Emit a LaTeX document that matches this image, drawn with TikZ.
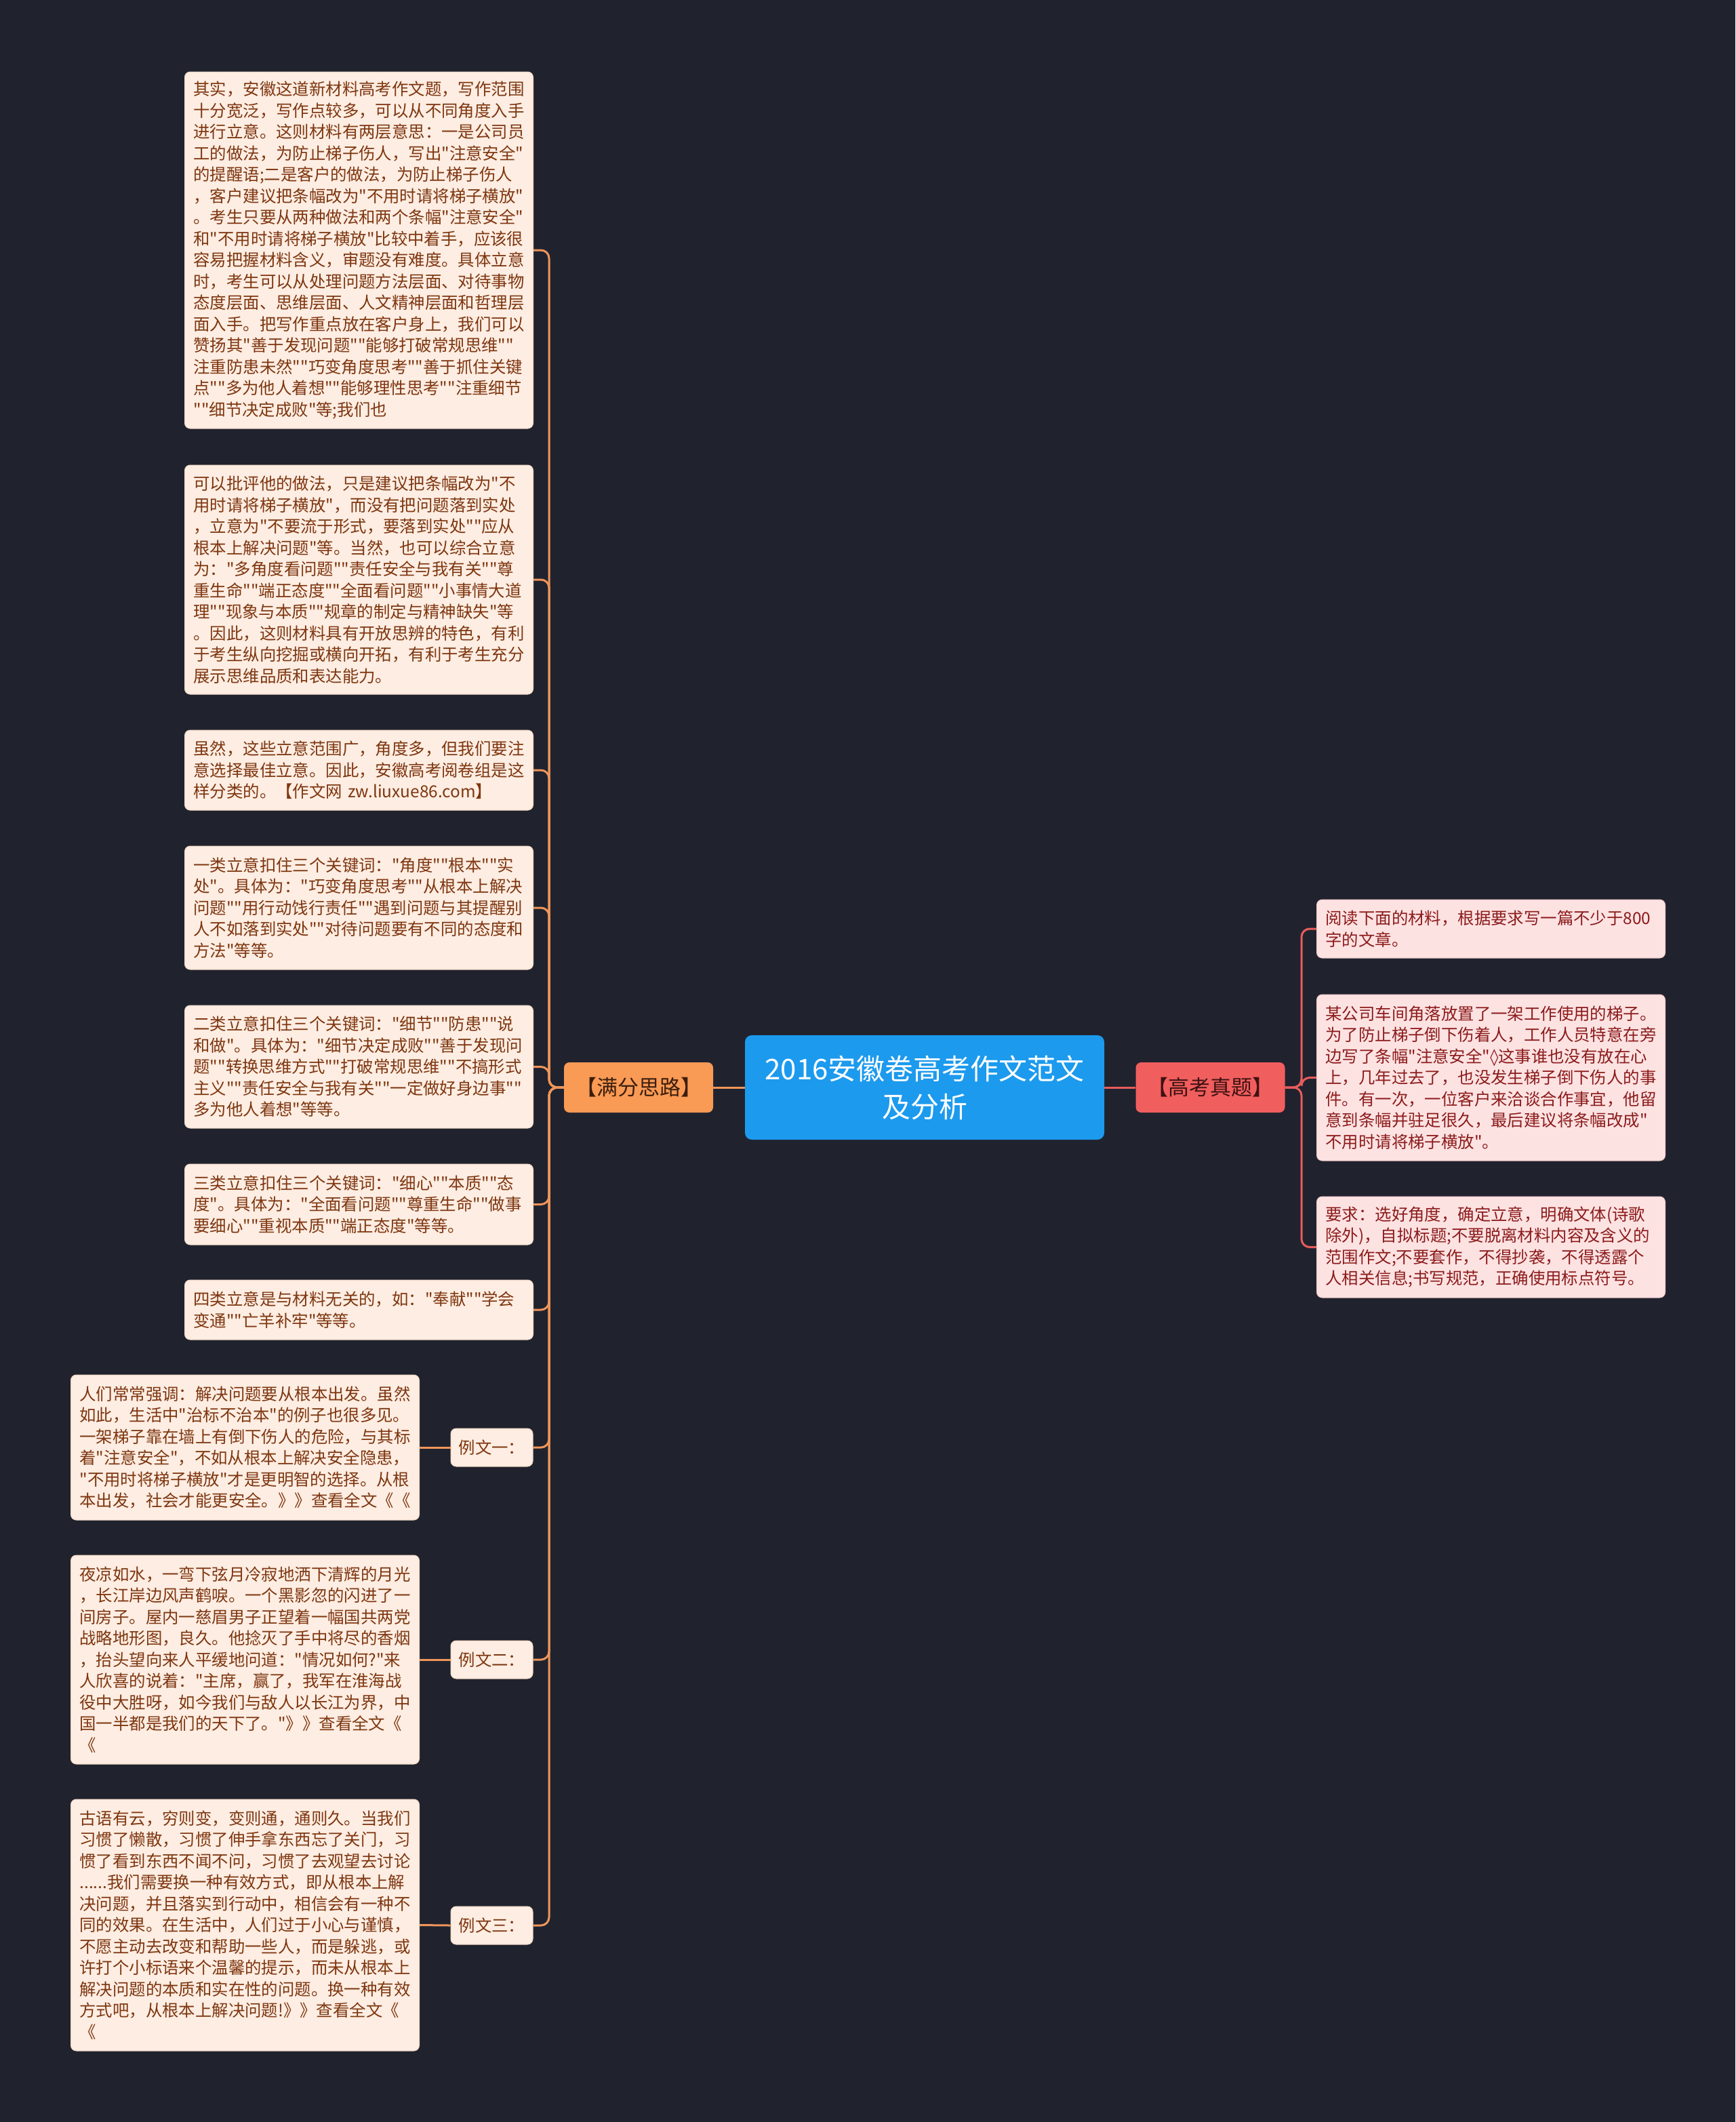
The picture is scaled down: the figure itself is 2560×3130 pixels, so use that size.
\documentclass[tikz,border=0pt]{standalone}
\usepackage{fontspec}
\newfontfamily\cjk{Noto Sans CJK SC}
\newfontfamily\dvsans{DejaVu Sans}
\definecolor{bg}{HTML}{20232E}
\definecolor{cblue}{HTML}{1C9AEE}
\definecolor{lorange}{HTML}{F99A55}
\definecolor{rred}{HTML}{F15E5E}
\definecolor{lfill}{HTML}{FDEDE2}
\definecolor{lborder}{HTML}{F1D6C2}
\definecolor{ltext}{HTML}{7E3610}
\definecolor{rfill}{HTML}{FDE2E2}
\definecolor{rborder}{HTML}{F2CACA}
\definecolor{rtext}{HTML}{8C1B1B}
\definecolor{lline}{HTML}{F0955A}
\definecolor{rline}{HTML}{E85C5C}
\definecolor{btext}{HTML}{3B1E0C}
\definecolor{rbtext}{HTML}{3E1212}
\tikzset{
  leafbase/.style={rectangle, rounded corners=8pt, line width=1pt, inner xsep=13pt, inner ysep=0pt,
    text width=488pt, align=left, font=\cjk\fontsize{24.4}{31.5}\selectfont},
  lleaf/.style={leafbase, fill=lfill, draw=lborder, text=ltext, minimum height=#1},
  rleaf/.style={leafbase, fill=rfill, draw=rborder, text=rtext, minimum height=#1},
  elabel/.style={rectangle, rounded corners=8pt, fill=lfill, draw=lborder, line width=1pt, text=ltext,
    minimum width=121pt, minimum height=56pt, inner sep=0pt, font=\cjk\fontsize{24.4}{31.5}\selectfont},
  branch/.style={rectangle, rounded corners=8pt, minimum width=220pt, minimum height=74pt, inner sep=0pt,
    font=\cjk\fontsize{31}{36}\selectfont},
  lconn/.style={draw=lline, line width=3pt, rounded corners=12pt},
  rconn/.style={draw=rline, line width=3pt, rounded corners=12pt},
}
\begin{document}
\begin{tikzpicture}[x=1pt, y=-1pt]
\fill[bg] (0,0) rectangle (2560,3130);
\useasboundingbox (0,0) rectangle (2560,3130);

% center and branches
\node[fill=cblue, rounded corners=10pt, minimum width=530pt, minimum height=154pt, inner sep=0pt,
  text=white, align=center, font=\cjk\fontsize{42}{56}\selectfont] (c) at (1364,1604)
  {2016安徽卷高考作文范文\\及分析};
\node[branch, fill=lorange, text=btext] (lb) at (942,1604) {【满分思路】};
\node[branch, fill=rred, text=rbtext] (rb) at (1785.5,1604) {【高考真题】};

\coordinate (ltrunk) at (810,1604);
\coordinate (rtrunk) at (1920,1604);

% left leaves
\node[lleaf=526pt, anchor=east] (l1) at (787,369) {其实，安徽这道新材料高考作文题，写作范围\\
十分宽泛，写作点较多，可以从不同角度入手\\
进行立意。这则材料有两层意思：一是公司员\\
工的做法，为防止梯子伤人，写出"注意安全"\\
的提醒语;二是客户的做法，为防止梯子伤人\\
，客户建议把条幅改为"不用时请将梯子横放"\\
。考生只要从两种做法和两个条幅"注意安全"\\
和"不用时请将梯子横放"比较中着手，应该很\\
容易把握材料含义，审题没有难度。具体立意\\
时，考生可以从处理问题方法层面、对待事物\\
态度层面、思维层面、人文精神层面和哲理层\\
面入手。把写作重点放在客户身上，我们可以\\
赞扬其"善于发现问题""能够打破常规思维""\\
注重防患未然""巧变角度思考""善于抓住关键\\
点""多为他人着想""能够理性思考""注重细节\\
""细节决定成败"等;我们也};

\node[lleaf=338pt, anchor=east] (l2) at (787,855) {可以批评他的做法，只是建议把条幅改为"不\\
用时请将梯子横放"，而没有把问题落到实处\\
，立意为"不要流于形式，要落到实处""应从\\
根本上解决问题"等。当然，也可以综合立意\\
为："多角度看问题""责任安全与我有关""尊\\
重生命""端正态度""全面看问题""小事情大道\\
理""现象与本质""规章的制定与精神缺失"等\\
。因此，这则材料具有开放思辨的特色，有利\\
于考生纵向挖掘或横向开拓，有利于考生充分\\
展示思维品质和表达能力。};

\node[lleaf=118pt, anchor=east] (l3) at (787,1136) {虽然，这些立意范围广，角度多，但我们要注\\
意选择最佳立意。因此，安徽高考阅卷组是这\\
样分类的。【作文网 zw.liuxue86.com】};

\node[lleaf=182pt, anchor=east] (l4) at (787,1339) {一类立意扣住三个关键词："角度""根本""实\\
处"。具体为："巧变角度思考""从根本上解决\\
问题""用行动饯行责任""遇到问题与其提醒别\\
人不如落到实处""对待问题要有不同的态度和\\
方法"等等。};

\node[lleaf=181pt, anchor=east] (l5) at (787,1573.5) {二类立意扣住三个关键词："细节""防患""说\\
和做"。具体为："细节决定成败""善于发现问\\
题""转换思维方式""打破常规思维""不搞形式\\
主义""责任安全与我有关""一定做好身边事""\\
多为他人着想"等等。};

\node[lleaf=119pt, anchor=east] (l6) at (787,1776.5) {三类立意扣住三个关键词："细心""本质""态\\
度"。具体为："全面看问题""尊重生命""做事\\
要细心""重视本质""端正态度"等等。};

\node[lleaf=88pt, anchor=east] (l7) at (787,1932) {四类立意是与材料无关的，如："奉献""学会\\
变通""亡羊补牢"等等。};

% examples
\node[elabel] (e1l) at (725.5,2135) {例文一：};
\node[elabel] (e2l) at (725.5,2448) {例文二：};
\node[elabel] (e3l) at (725.5,2840) {例文三：};

\node[lleaf=214pt, anchor=east] (e1) at (619,2135) {人们常常强调：解决问题要从根本出发。虽然\\
如此，生活中"治标不治本"的例子也很多见。\\
一架梯子靠在墙上有倒下伤人的危险，与其标\\
着"注意安全"，不如从根本上解决安全隐患，\\
"不用时将梯子横放"才是更明智的选择。从根\\
本出发，社会才能更安全。》》查看全文《《};

\node[lleaf=308pt, anchor=east] (e2) at (619,2448) {夜凉如水，一弯下弦月冷寂地洒下清辉的月光\\
，长江岸边风声鹤唳。一个黑影忽的闪进了一\\
间房子。屋内一慈眉男子正望着一幅国共两党\\
战略地形图，良久。他捻灭了手中将尽的香烟\\
，抬头望向来人平缓地问道："情况如何?"来\\
人欣喜的说着："主席，赢了，我军在淮海战\\
役中大胜呀，如今我们与敌人以长江为界，中\\
国一半都是我们的天下了。"》》查看全文《\\
《};

\node[lleaf=371pt, anchor=east] (e3) at (619,2839.5) {古语有云，穷则变，变则通，通则久。当我们\\
习惯了懒散，习惯了伸手拿东西忘了关门，习\\
惯了看到东西不闻不问，习惯了去观望去讨论\\
......我们需要换一种有效方式，即从根本上解\\
决问题，并且落实到行动中，相信会有一种不\\
同的效果。在生活中，人们过于小心与谨慎，\\
不愿主动去改变和帮助一些人，而是躲逃，或\\
许打个小标语来个温馨的提示，而未从根本上\\
解决问题的本质和实在性的问题。换一种有效\\
方式吧，从根本上解决问题!》》查看全文《\\
《};

% right leaves
\node[rleaf=86pt, anchor=west] (r1) at (1942,1370) {阅读下面的材料，根据要求写一篇不少于800\\
字的文章。};

\node[rleaf=245pt, anchor=west] (r2) at (1942,1589.5) {某公司车间角落放置了一架工作使用的梯子。\\
为了防止梯子倒下伤着人，工作人员特意在旁\\
边写了条幅"注意安全"{\dvsans ◊}这事谁也没有放在心\\
上，几年过去了，也没发生梯子倒下伤人的事\\
件。有一次，一位客户来洽谈合作事宜，他留\\
意到条幅并驻足很久，最后建议将条幅改成"\\
不用时请将梯子横放"。};

\node[rleaf=149pt, anchor=west] (r3) at (1942,1839.5) {要求：选好角度，确定立意，明确文体(诗歌\\
除外)，自拟标题;不要脱离材料内容及含义的\\
范围作文;不要套作，不得抄袭，不得透露个\\
人相关信息;书写规范，正确使用标点符号。};

% connectors
\draw[lconn] (c.west) -- (lb.east);
\draw[rconn] (c.east) -- (rb.west);
\foreach \n in {l1,l2,l3,l4,l5,l6,l7,e1l,e2l,e3l}{
  \draw[lconn] (lb.west) -- (ltrunk) |- (\n.east);
}
\draw[lconn] (e1.east) -- (e1l.west);
\draw[lconn] (e2.east) -- (e2l.west);
\draw[lconn] (e3.east) -- (e3l.west);
\foreach \n in {r1,r2,r3}{
  \draw[rconn] (rb.east) -- (rtrunk) |- (\n.west);
}
\end{tikzpicture}
\end{document}
